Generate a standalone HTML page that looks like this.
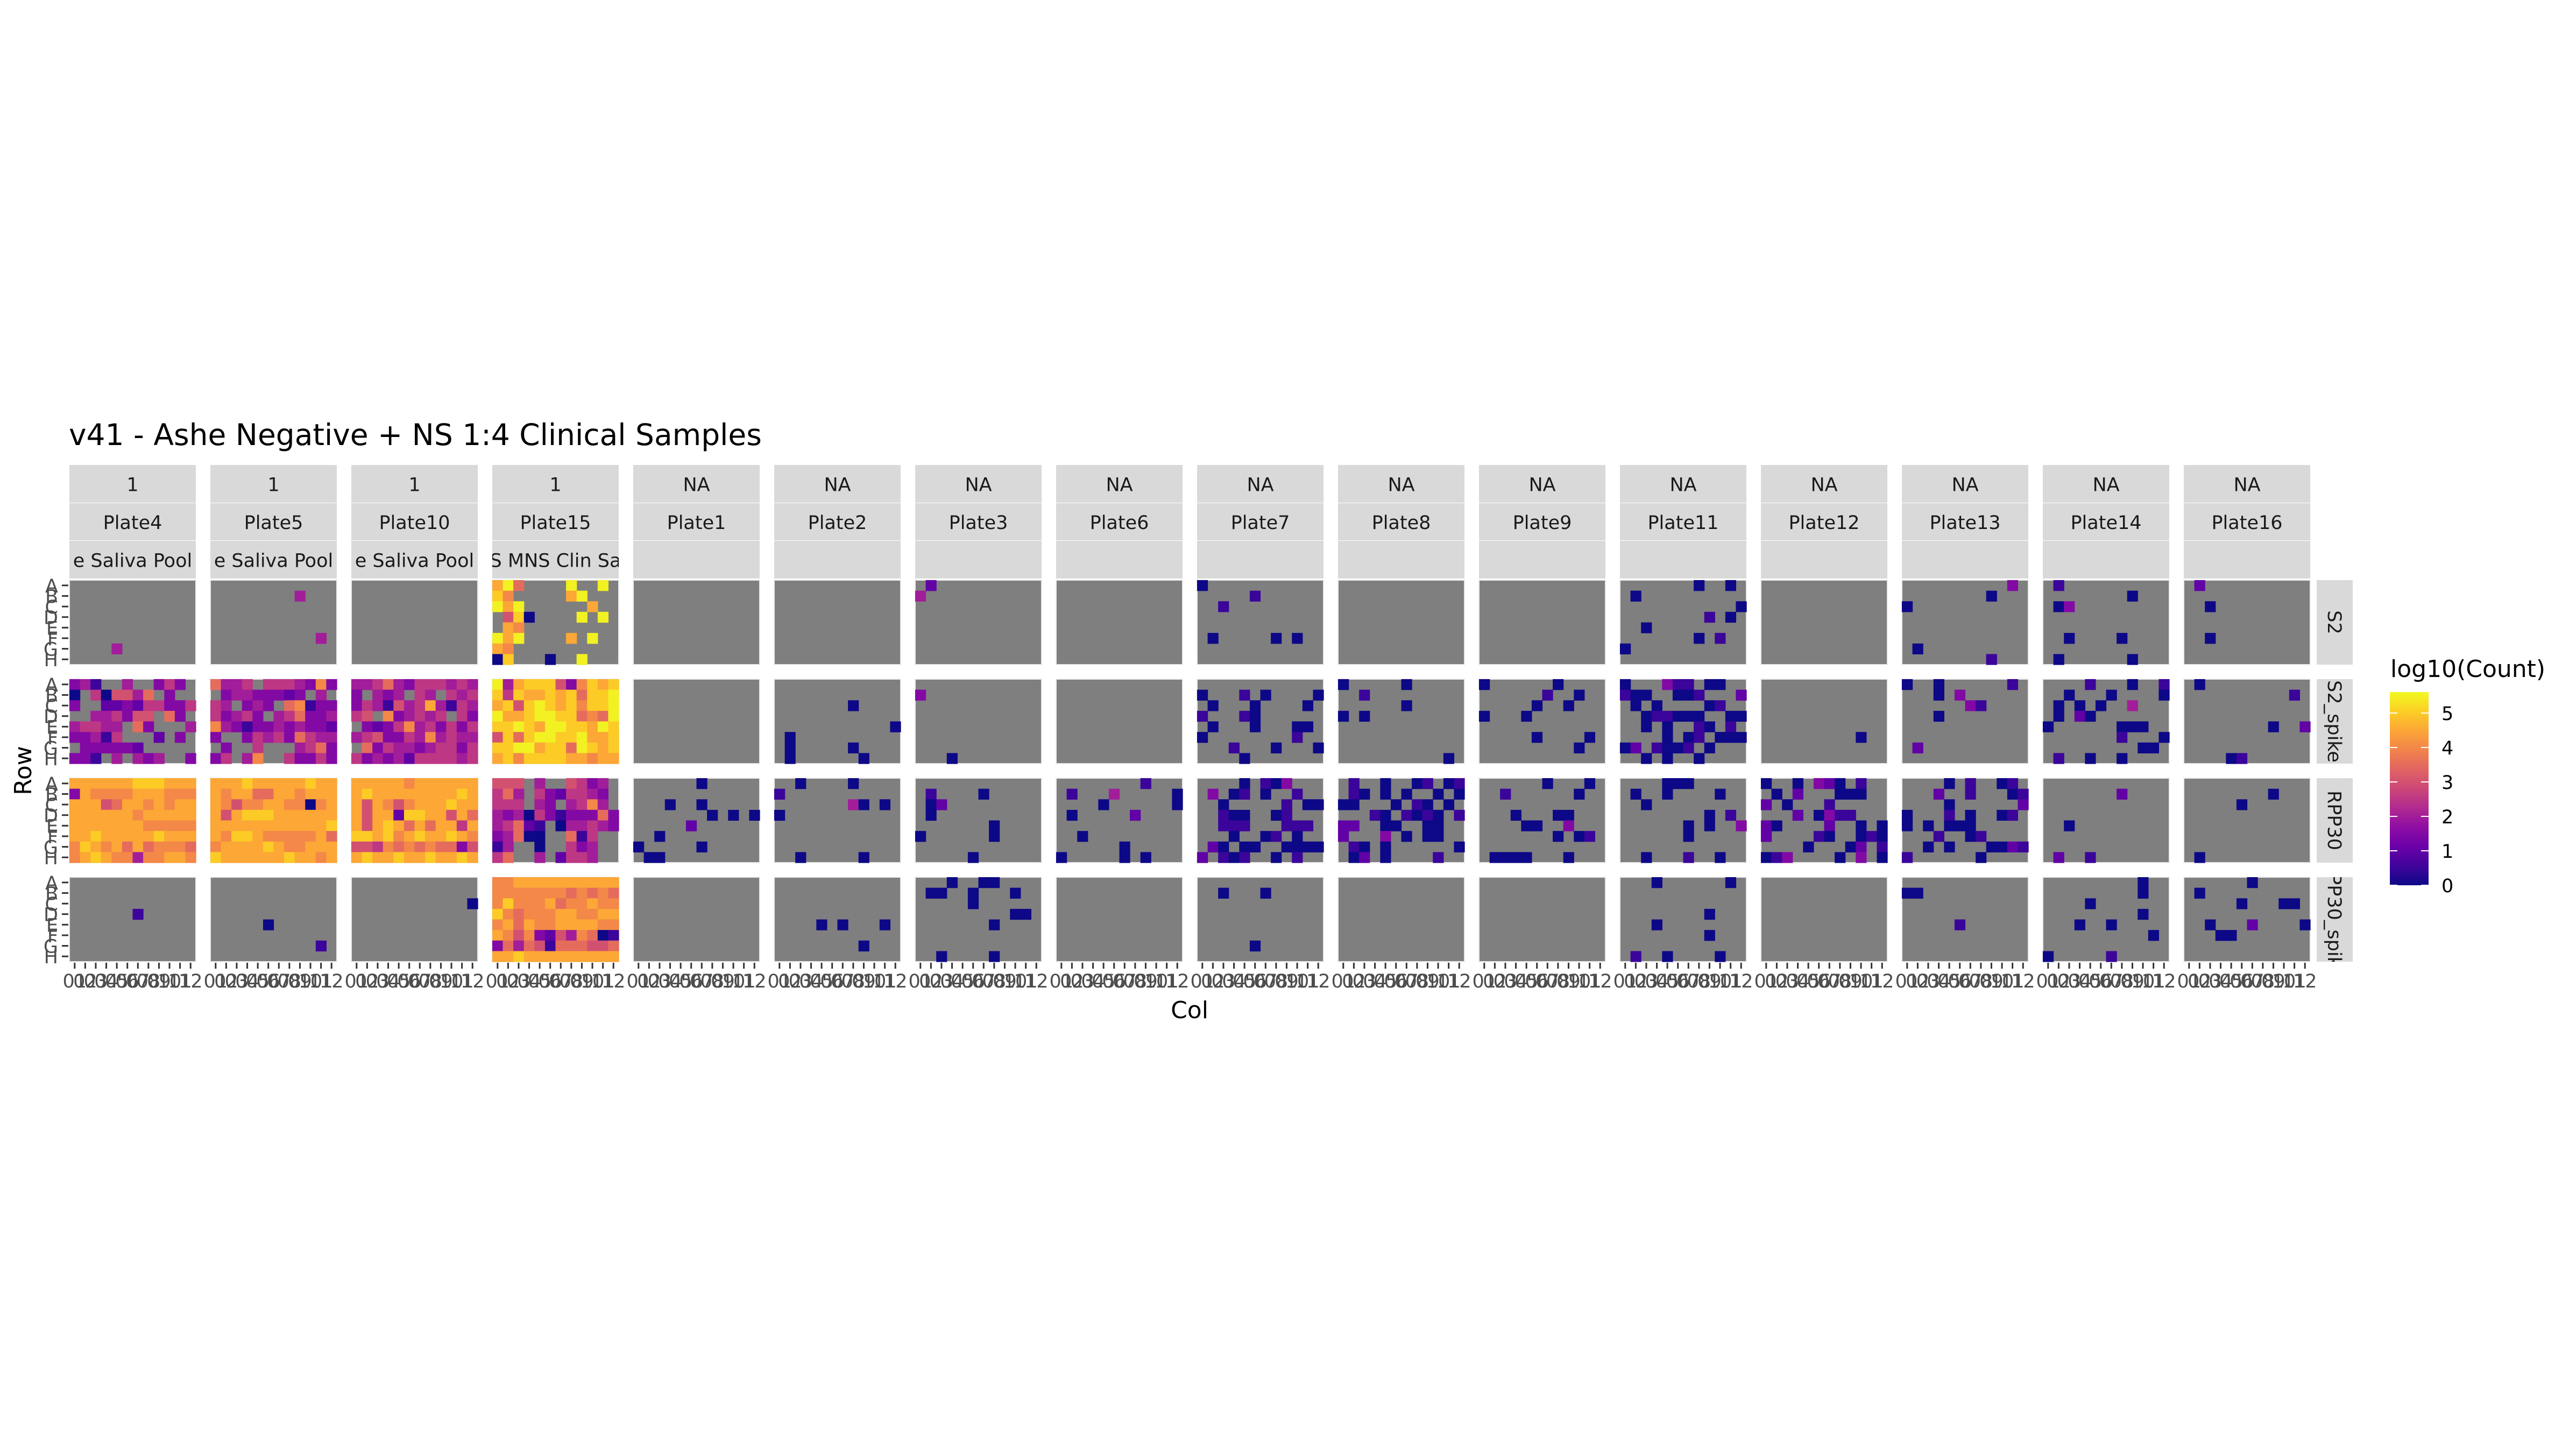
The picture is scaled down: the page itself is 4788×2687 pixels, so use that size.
<!DOCTYPE html>
<html><head><meta charset="utf-8"><style>
html,body{margin:0;padding:0;background:#fff;}
svg{display:block;font-family:"DejaVu Sans","Liberation Sans",sans-serif;}
</style></head><body>
<svg id="chart" width="4788" height="2687" viewBox="0 0 4788 2687" xmlns="http://www.w3.org/2000/svg">
<rect x="0" y="0" width="4788" height="2687" fill="#fff"/>
<text x="128" y="827" font-size="55" fill="#000">v41 - Ashe Negative  + NS 1:4 Clinical Samples</text>
<text transform="translate(58,1432) rotate(-90)" text-anchor="middle" font-size="44" fill="#000">Row</text>
<text x="2211" y="1892" text-anchor="middle" font-size="44" fill="#000">Col</text>
<g id="panels"></g>
<g id="legend">
<text x="4443" y="1258" font-size="44" fill="#000">log10(Count)</text>
<defs><linearGradient id="plasma" x1="0" y1="1" x2="0" y2="0">
<stop offset="0" stop-color="#0d0887"/><stop offset="0.1" stop-color="#41049d"/><stop offset="0.2" stop-color="#6a00a8"/><stop offset="0.3" stop-color="#8f0da4"/><stop offset="0.4" stop-color="#b12a90"/><stop offset="0.5" stop-color="#cc4778"/><stop offset="0.6" stop-color="#e16462"/><stop offset="0.7" stop-color="#f2844b"/><stop offset="0.8" stop-color="#fca636"/><stop offset="0.9" stop-color="#fcce25"/><stop offset="1" stop-color="#f0f921"/>
</linearGradient></defs>
<rect x="4442" y="1286" width="72" height="359" fill="url(#plasma)"/>
<g id="legend-ticks"></g>
</g>
</svg>
<script>
const plates = ["Plate4","Plate5","Plate10","Plate15","Plate1","Plate2","Plate3","Plate6","Plate7","Plate8","Plate9","Plate11","Plate12","Plate13","Plate14","Plate16"];
const groupLabels = ["1","1","1","1","NA","NA","NA","NA","NA","NA","NA","NA","NA","NA","NA","NA"];
const sampleLabels = ["e Saliva Pool","e Saliva Pool","e Saliva Pool","S MNS Clin Sa","","","","","","","","","","","",""];
const targets = ["S2","S2_spike","RPP30","RPP30_spike"];
const rowLabels = ["A","B","C","D","E","F","G","H"];
const colLabels = ["01","02","03","04","05","06","07","08","09","10","11","12"];
const legendTicks = [0,1,2,3,4,5];
const legendMax = 5.61;
// cell codes: '.' = NA, digit/letter k -> log10 value k*0.5
const E = "............";
const cells = {
"Plate4":[
[E,E,E,E,E,E,"....4.......",E],
["341..4..353.","0.506647.3..","3..223255335","..445366.73.","45544.73...4","33415...2.3.",".333332.....","331.4.434..3"],
["999999aaa999","398888999888","999679989899","999999899999","999999988888","99a99999a999","8a9897978887","89a988488998"],
[E,E,E,"......1.....",E,E,E,E]],
"Plate5":[
[E,"........4...",E,E,E,"..........4.",E,E],
["7445.5554383",".34433323.4.","54.343.78133","53453.457334","843133434332","3..354537544",".3..5...4573","35.48..53353"],
["999a99999a99","989977998999","986889988089","969aaa999999","99999999999a","98aa98888897","89999a988999","a999999a9989"],
[E,E,E,E,".....0......",E,"..........1.",E]],
"Plate10":[
[E,E,E,E,E,E,E,E],
["445743555454","3.434.54.545","354164594154","56.834545.53",".32358453535","456335484544",".73544345535","534342555545"],
["999998999999","9a99999999a9","969868999a99","96992aa99697","969a97979959","aa9a89a99a98","665878787736","9a99a99a99a9"],
[E,E,"...........0",E,E,E,E,E]],
"Plate15":[
["9b7....b..b.","a8.....9b...","b9b......9..",".6a0....b.b.",".98.........","b9b....9.b..","98..........","0a...0..b..."],
["b49aaa638a9a","a5a99a9a7aab","9a6aba9a8aab","b99abbaa787b","aaba9bbaa9ba","6a7abbaab99a","aabb9aa7ba9a","9a8aaaa99899"],
["666.4..6534.","574.5325543.","555.43.4584.","434053133373","45721.044543","34700..715..","14..0..534..","57..4.2554.."],
["889999999999","888888878787","8a8889788988","a87888998899","897988999988","986832648701","374761777667","99a999999999"]],
"Plate1":[
[E,E,E,E,E,E,E,E],[E,E,E,E,E,E,E,E],
["......0.....",E,"...0..0.....",".......0.0.0",".....2......","..0.........","0.....0.....",".00........."],
[E,E,E,E,E,E,E,E]],
"Plate2":[
[E,E,E,E,E,E,E,E],
[E,E,".......0....",E,"...........0",".0..........",".0.....0....",".0......0..."],
["..0....0....","1...........",".......40.0.","0...........",E,E,E,"..0.....0..."],
[E,E,E,E,"....0.0...0.",E,"........0...",E]],
"Plate3":[
[".2..........","4...........",E,E,E,E,E,E],
[E,"3...........",E,E,E,E,E,"...0........"],
[E,".1....0.....",".02.........",".0..........",".......0....","0......0....",E,".....0......"],
["...0..00....",".00..0...0..",".....0......",".........00.",".......0....",E,E,"..0....0...."]],
"Plate6":[
[E,E,E,E,E,E,E,E],[E,E,E,E,E,E,E,E],
["........1...",".1...4.....0","....0......0",".0.....2....",E,"..0.........","......0.....","0.....0.0..."],
[E,E,E,E,E,E,E,E]],
"Plate7":[
["0...........",".....1......","..1.........",E,E,".0.....0.0..",E,E],
[E,"0...1.0....0",".0...0....0.","1...10......",".0...0...00.","0........1..","...1...0...0","....0......."],
["....0.103...",".3.01.0..1..","..0.....1.00","..100..01...","..111...111.","...0..01.0..",".20.00..0000","2.101..0.1.."],
[E,"..0...0.....",E,E,E,E,".....0......",E]],
"Plate8":[
[E,E,E,E,E,E,E,E],
["0.....0.....","..1.........","......0.....","0.0.........",E,E,E,"..........0."],
[".1..0..01.01",".10.0.0..0.0","00...0.10.0.","...10.1010.1","22..00..00..","2...3.0.00..",".10.0......0",".02.0....1.."],
[E,E,E,E,E,E,E,E]],
"Plate9":[
[E,E,E,E,E,E,E,E],
["0......0....","......1..0..",".....0..0...","0...0.......",E,".....0....0.",".........0..",E],
["......0...0.","..1......0..",E,"...0...00...","....00..3...",".......0.01.",E,".0000...0..."],
[E,E,E,E,E,E,E,E]],
"Plate11":[
[".......0..0.",".0..........","...........0","........1.0.","..0.........",".......0.1..","0...........",E],
["0...311.00..","100..001...2",".0.0....01..","..011000..00","..0.0..10.1.","....0.01.000","02.1001.0...","..0.0..0...."],
["....000.....",".0..0....0..","..0.........","........0.1.","......0.0..3","......0.....",E,"..0...1..0.."],
["...0......0.",E,E,"........0...","...0........","........0...",E,".1..0....0.."]],
"Plate12":[
[E,E,E,E,E,E,E,E],
[E,E,E,E,E,".........0..",E,E],
["0..0.320.1..",".0.2...000..","2.0...1.....","...2.0311...","20....2..0.0","2....10..010","....0...02.1","013....0.3.0"],
[E,E,E,E,E,E,E,E]],
"Plate13":[
["..........3.","........0...","0...........",E,E,E,".0..........","........1..."],
["0..0......1.","...0.3......","......31....","...0........",E,E,".2..........",E],
["....0.1..01.","...2..1...01","....0......2","0...1.0..01.","0.0.000.....","...1..01....","..0.0...0021","1......0...."],
[E,"00..........",E,E,".....1......",E,E,E]],
"Plate14":[
[".1..........","........0...",".03.........",E,E,"..0....0....",E,".0......0..."],
["....1...0..1","..0...0....0",".0.0.0..4...",".0.20.......","0......000..",".......1...0",".........00.",".1..0..0...."],
[E,".......2....",E,E,"..0.........",E,E,".2..1......."],
[".........0..",".........0..","....0.......",".........0..","...0..0.....","..........0.",E,"0.....1....."]],
"Plate16":[
[".2..........",E,"..0.........",E,E,"..0.........",E,E],
[".0..........","..........1.",E,E,"........0..2",E,E,"....01......"],
[E,"........0...",".....0......",E,E,E,E,".0.........."],
["......0.....",".0..........",".....0...00.",E,"..0...2....0","...00.......",E,E]]
};

const NS = "http://www.w3.org/2000/svg";
const X0 = 129, PITCH = 262, PW = 235, PH = 157;
const ROWY = [1078, 1262, 1446, 1630];
const STRIP_TOP = 864, STRIP_H = [71, 70, 71];
const stops = [[13,8,135],[65,4,157],[106,0,168],[143,13,164],[177,42,144],[204,71,120],[225,100,98],[242,132,75],[252,166,54],[252,206,37],[240,249,33]];
function plasma(v){
  let t = Math.max(0, Math.min(1, v / legendMax)) * 10;
  const i = Math.min(9, Math.floor(t)), f = t - i;
  const a = stops[i], b = stops[i+1];
  return "rgb(" + a.map((c,k)=>Math.round(c+(b[k]-c)*f)).join(",") + ")";
}
function codeVal(ch){ return parseInt(ch, 36) * 0.5; }
function el(tag, attrs, parent){
  const e = document.createElementNS(NS, tag);
  for (const k in attrs) e.setAttribute(k, attrs[k]);
  parent.appendChild(e);
  return e;
}
const g = document.getElementById("panels");
const defs = el("defs", {}, g);
const cw = PW / 12, ch = PH / 8;
function xScale(pi, c){ return X0 + pi*PITCH + c*cw; }
function yScale(ri, r){ return ROWY[ri] + r*ch; }

plates.forEach((p, pi) => {
  const px = X0 + pi*PITCH;
  const cp = el("clipPath", {id:"sclip"+pi}, defs);
  el("rect", {x:px, y:STRIP_TOP, width:PW, height:212}, cp);
  let sy = STRIP_TOP;
  const labs = [groupLabels[pi], p, sampleLabels[pi]];
  labs.forEach((lab, li) => {
    const r = el("rect", {x:px, y:sy, width:PW, height:STRIP_H[li]-1, fill:"#d9d9d9"}, g);
    
    
    if (lab) {
      const t = el("text", {x:px+PW/2, y:sy+STRIP_H[li]/2+13, "text-anchor":"middle", "font-size":"35", fill:"#1a1a1a", "clip-path":"url(#sclip"+pi+")"}, g);
      
      
      t.textContent = lab;
    }
    sy += STRIP_H[li];
  });
  targets.forEach((tg, ri) => {
    const bg = el("rect", {x:px, y:ROWY[ri], width:PW, height:PH, fill:"#7f7f7f", stroke:"#ebebeb", "stroke-width":"2"}, g);
    
    
    const grid = cells[p][ri];
    for (let r = 0; r < 8; r++) {
      for (let c = 0; c < 12; c++) {
        const chr = grid[r][c];
        if (chr === ".") continue;
        const cell = el("rect", {x:xScale(pi,c).toFixed(2), y:yScale(ri,r).toFixed(2), width:(cw+0.6).toFixed(2), height:(ch+0.6).toFixed(2), fill:plasma(codeVal(chr))}, g);
        
        
      }
    }
  });
  colLabels.forEach((cl, c) => {
    const cx = xScale(pi, c) + cw/2;
    const tk = el("line", {x1:cx, y1:1789, x2:cx, y2:1800, stroke:"#333", "stroke-width":"3"}, g);
    
    
    const t = el("text", {x:cx, y:1835, "text-anchor":"middle", "font-size":"35", fill:"#4d4d4d"}, g);
    
    
    t.textContent = cl;
  });
});
targets.forEach((tg, ri) => {
  const sx = X0 + 15*PITCH + PW + 12;
  const r = el("rect", {x:sx, y:ROWY[ri], width:67, height:PH, fill:"#d9d9d9"}, g);
  
  
  const cp = el("clipPath", {id:"rclip"+ri}, defs);
  el("rect", {x:sx, y:ROWY[ri], width:67, height:PH}, cp);
  const wrap = el("g", {"clip-path":"url(#rclip"+ri+")"}, g);
  const t = el("text", {transform:"translate("+(sx+21)+","+(ROWY[ri]+PH/2)+") rotate(90)", "text-anchor":"middle", "font-size":"35", fill:"#1a1a1a"}, wrap);
  
  
  t.textContent = tg;
  rowLabels.forEach((rl, r) => {
    const cy = yScale(ri, r) + ch/2;
    const tk = el("line", {x1:115, y1:cy, x2:127, y2:cy, stroke:"#333", "stroke-width":"3"}, g);
    
    
    const tl = el("text", {x:108, y:cy+13, "text-anchor":"end", "font-size":"35", fill:"#4d4d4d"}, g);
    
    
    tl.textContent = rl;
  });
});
const lg = document.getElementById("legend-ticks");
legendTicks.forEach(v => {
  const y = 1645 - v * (359 / legendMax);
  const a = el("line", {x1:4442, y1:y, x2:4456, y2:y, stroke:"#fff", "stroke-width":"2"}, lg);
  
  
  const b = el("line", {x1:4500, y1:y, x2:4514, y2:y, stroke:"#fff", "stroke-width":"2"}, lg);
  
  
  const t = el("text", {x:4538, y:y+13, "font-size":"35", fill:"#000"}, lg);
  
  
  t.textContent = String(v);
});
</script>
</body></html>
